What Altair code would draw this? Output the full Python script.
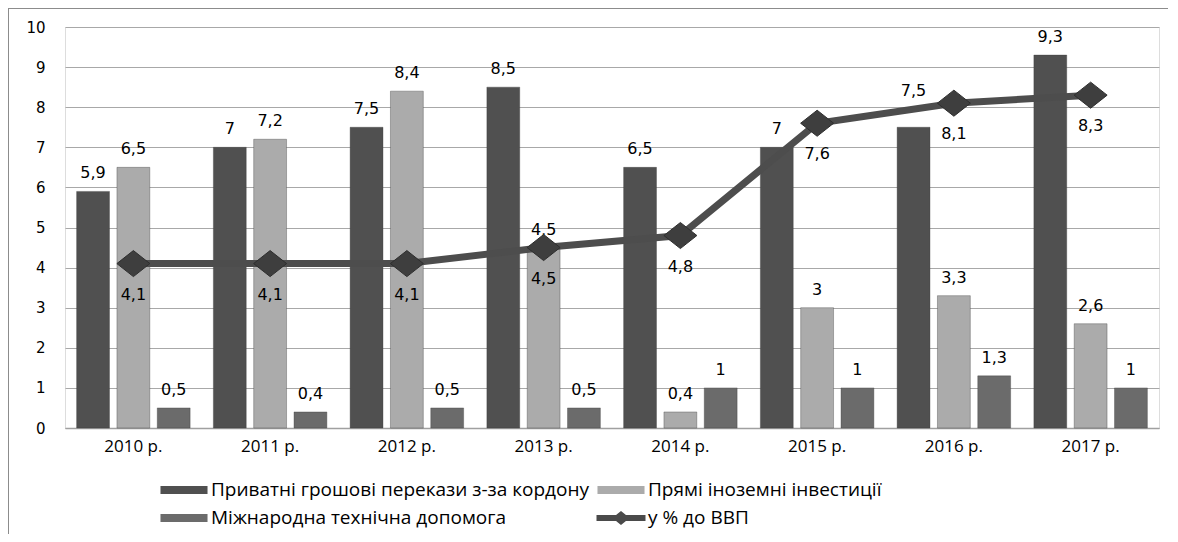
import altair as alt
import pandas as pd

years = ["2010 р.", "2011 р.", "2012 р.", "2013 р.", "2014 р.", "2015 р.", "2016 р.", "2017 р."]
remittances = [5.9, 7, 7.5, 8.5, 6.5, 7, 7.5, 9.3]
fdi = [6.5, 7.2, 8.4, 4.5, 0.4, 3, 3.3, 2.6]
tech_aid = [0.5, 0.4, 0.5, 0.5, 1, 1, 1.3, 1]
gdp_share = [4.1, 4.1, 4.1, 4.5, 4.8, 7.6, 8.1, 8.3]
series_names = [
    "Приватні грошові перекази з-за кордону",
    "Прямі іноземні інвестиції",
    "Міжнародна технічна допомога",
    "у % до ВВП",
]
y_ticks = list(range(0, 11))


def fmt(v):
    return f"{v:g}".replace(".", ",")


rows = []
for name, vals in zip(series_names[:3], [remittances, fdi, tech_aid]):
    for yr, v in zip(years, vals):
        rows.append({"year": yr, "series": name, "value": v, "label": fmt(v)})
bar_df = pd.DataFrame(rows)
line_df = pd.DataFrame({
    "year": years,
    "series": series_names[3],
    "value": gdp_share,
    "label": [fmt(v) for v in gdp_share],
})
frame_df = pd.DataFrame({"k": [0]})

RECT = "M-1.68,-0.29H1.68V0.29H-1.68Z"
LINE_DIAMOND = "M-1.75,-0.21H1.75V0.21H-1.75Z M0,-0.5L0.62,0L0,0.5L-0.62,0Z"
DIAMOND = "M-1,0L0,-0.79L1,0L0,0.79Z"

color_scale = alt.Scale(domain=series_names, range=["#505050", "#ababab", "#6b6b6b", "#4a4a4a"])
shape_scale = alt.Scale(domain=series_names, range=[RECT, RECT, RECT, LINE_DIAMOND])

legend = alt.Legend(
    title=None, orient="none", legendX=105, legendY=449, columns=2, direction="horizontal",
    symbolSize=784, symbolOpacity=1, symbolStrokeWidth=0,
    labelFont="Open Sans", labelFontSize=19, labelColor="#000000",
    labelOffset=13, labelLimit=600, columnPadding=7, rowPadding=4, padding=0,
)

x_enc = alt.X(
    "year:N", sort=years,
    scale=alt.Scale(paddingInner=0.17, paddingOuter=0.085),
    axis=alt.Axis(title=None, labelAngle=0, ticks=False, domainColor="#a0a0a0",
                  domainWidth=1.5, labelFont="Open Sans", labelFontSize=17,
                  labelColor="#000000", labelPadding=10, grid=False),
)
y_enc = alt.Y(
    "value:Q", scale=alt.Scale(domain=[0, 10], nice=False, zero=True),
    axis=alt.Axis(title=None, values=y_ticks, grid=True, gridColor="#a8a8a8",
                  gridWidth=1.2, domain=False, ticks=False, labelFont="DejaVu Sans",
                  labelFontSize=15, labelColor="#000000", labelPadding=20),
)
xoff = alt.XOffset("series:N", sort=series_names[:3],
                   scale=alt.Scale(paddingInner=0.185, paddingOuter=0))

# outer chart frame: top and left edges (the right and bottom lie outside the picture)
frame_top = alt.Chart(frame_df).mark_rule(stroke="#8c8c8c", strokeWidth=2).encode(
    x=alt.value(-57), x2=alt.value(1103), y=alt.value(-19)
)
frame_left = alt.Chart(frame_df).mark_rule(stroke="#8c8c8c", strokeWidth=2).encode(
    x=alt.value(-57), y=alt.value(-19), y2=alt.value(507)
)

bars = alt.Chart(bar_df).mark_bar(stroke="#3a3a3a", strokeWidth=0.6, strokeOpacity=0.6).encode(
    x=x_enc, xOffset=xoff, y=y_enc,
    color=alt.Color("series:N", scale=color_scale, legend=legend),
)

# the 2016 remittance label is lifted above the line, as in the original
is_lifted = (alt.datum.year == "2016 р.") & (alt.datum.series == series_names[0])
bar_labels = alt.Chart(bar_df).transform_filter(~is_lifted).mark_text(
    font="DejaVu Sans", fontSize=16, color="#000000", baseline="middle", dy=-18
).encode(x=x_enc, xOffset=xoff, y=y_enc, text="label:N")
bar_labels_lifted = alt.Chart(bar_df).transform_filter(is_lifted).mark_text(
    font="DejaVu Sans", fontSize=16, color="#000000", baseline="middle", dy=-36
).encode(x=x_enc, xOffset=xoff, y=y_enc, text="label:N")

line = alt.Chart(line_df).mark_line(color="#4d4d4d", strokeWidth=7).encode(x=x_enc, y=y_enc)
legend_points = alt.Chart(line_df).mark_point(filled=True, opacity=0).encode(
    x=x_enc, y=y_enc,
    color=alt.Color("series:N", scale=color_scale, legend=legend),
    shape=alt.Shape("series:N", scale=shape_scale, legend=legend),
)
diamonds = alt.Chart(line_df).mark_point(
    filled=True, shape=DIAMOND, size=1089, color="#3e3e3e", stroke="#2e2e2e",
    strokeWidth=1, opacity=1
).encode(x=x_enc, y=y_enc)
line_labels = alt.Chart(line_df).mark_text(
    font="DejaVu Sans", fontSize=16, color="#000000", baseline="middle", dy=31
).encode(x=x_enc, y=y_enc, text="label:N")

chart = alt.layer(
    frame_top, frame_left, bars, bar_labels, bar_labels_lifted, line,
    legend_points, diamonds, line_labels
).properties(
    width=1094, height=401,
    autosize=alt.AutoSizeParams(type="none"),
    padding={"left": 57, "top": 19, "right": 10, "bottom": 106},
).configure_view(stroke=None).configure(background="white")

chart.save("out.html", embed_options={"renderer": "svg", "actions": False})
